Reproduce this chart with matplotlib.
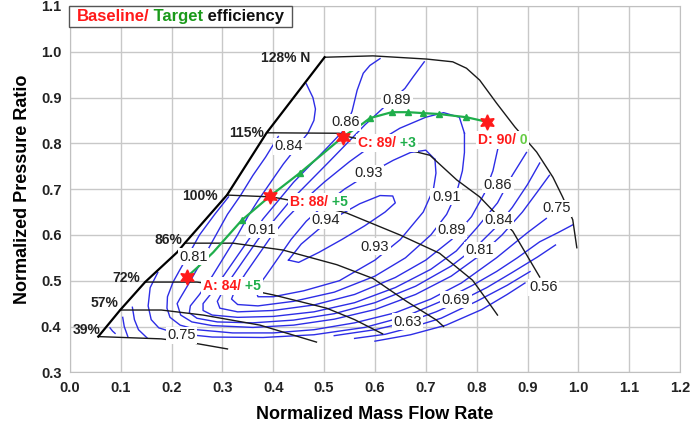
import matplotlib.pyplot as plt
from matplotlib.patches import Rectangle
from matplotlib.transforms import Bbox

plt.rcParams['font.family'] = ['Liberation Sans', 'DejaVu Sans']

# ---- map boundaries (normalized mass flow, normalized pressure ratio) ----
surge = [(0.056, 0.378), (0.099, 0.436), (0.148, 0.497), (0.211, 0.562), (0.226, 0.582),
         (0.309, 0.687), (0.387, 0.823), (0.501, 0.988)]

speed_128 = [(0.501, 0.988), (0.596, 0.991), (0.702, 0.984), (0.753, 0.978), (0.78, 0.964),
             (0.806, 0.938), (0.839, 0.888), (0.875, 0.836), (0.918, 0.781), (0.95, 0.726),
             (0.969, 0.683), (0.989, 0.633), (0.997, 0.572)]
speed_115 = [(0.387, 0.823), (0.53, 0.822), (0.545, 0.815), (0.62, 0.798), (0.708, 0.774),
             (0.761, 0.72), (0.806, 0.683), (0.831, 0.654), (0.871, 0.608), (0.924, 0.508)]
speed_100 = [(0.309, 0.687), (0.397, 0.683), (0.47, 0.668), (0.544, 0.648), (0.649, 0.60),
             (0.727, 0.56), (0.792, 0.501), (0.82, 0.458), (0.841, 0.425)]
speed_86 = [(0.226, 0.582), (0.321, 0.582), (0.419, 0.567), (0.525, 0.535), (0.596, 0.505),
            (0.662, 0.455), (0.721, 0.414), (0.735, 0.40)]
speed_72 = [(0.148, 0.497), (0.25, 0.497), (0.33, 0.485), (0.40, 0.469), (0.505, 0.44),
            (0.56, 0.415), (0.615, 0.384)]
speed_57 = [(0.099, 0.436), (0.18, 0.436), (0.262, 0.425), (0.374, 0.403), (0.485, 0.366)]
speed_39 = [(0.056, 0.378), (0.18, 0.373), (0.243, 0.364), (0.31, 0.351)]

speed_labels = [("128% N", 0.472, 0.987), ("115%", 0.381, 0.822), ("100%", 0.291, 0.684),
                ("86%", 0.221, 0.589), ("72%", 0.138, 0.506), ("57%", 0.096, 0.451),
                ("39%", 0.06, 0.392)]

# ---- efficiency contours (blue) ----
eff_094 = [(0.43, 0.545), (0.455, 0.58), (0.49, 0.613), (0.53, 0.643), (0.57, 0.668), (0.61, 0.686),
           (0.635, 0.685), (0.64, 0.67), (0.62, 0.65), (0.58, 0.62), (0.535, 0.59), (0.49, 0.562),
           (0.45, 0.54), (0.43, 0.545)]
eff_093 = [(0.718, 0.765), (0.70, 0.785), (0.67, 0.78), (0.636, 0.763), (0.59, 0.735), (0.54, 0.70),
           (0.50, 0.665), (0.465, 0.63), (0.435, 0.59), (0.41, 0.55), (0.385, 0.51), (0.365, 0.48),
           (0.37, 0.465), (0.40, 0.465), (0.46, 0.478), (0.53, 0.50), (0.60, 0.545), (0.65, 0.59),
           (0.695, 0.65), (0.715, 0.70), (0.72, 0.735), (0.718, 0.765)]
eff_091 = [(0.776, 0.822), (0.766, 0.857), (0.735, 0.867), (0.70, 0.857), (0.649, 0.833), (0.60, 0.80),
           (0.55, 0.76), (0.50, 0.715), (0.46, 0.675), (0.425, 0.635), (0.395, 0.595), (0.37, 0.555),
           (0.345, 0.515), (0.325, 0.48), (0.318, 0.46), (0.33, 0.448), (0.37, 0.445), (0.44, 0.455),
           (0.52, 0.475), (0.60, 0.51), (0.66, 0.55), (0.71, 0.60), (0.741, 0.645), (0.76, 0.69),
           (0.772, 0.74), (0.776, 0.78), (0.776, 0.822)]
eff_089 = [(0.697, 0.978), (0.675, 0.945), (0.659, 0.92), (0.616, 0.877), (0.58, 0.84), (0.545, 0.80),
           (0.51, 0.76), (0.47, 0.715), (0.43, 0.67), (0.40, 0.63), (0.37, 0.59), (0.345, 0.55),
           (0.32, 0.51), (0.30, 0.475), (0.29, 0.455), (0.295, 0.44), (0.33, 0.432), (0.40, 0.435),
           (0.48, 0.447), (0.56, 0.47), (0.64, 0.507), (0.70, 0.545), (0.751, 0.59), (0.79, 0.64),
           (0.815, 0.69), (0.832, 0.74), (0.842, 0.79)]
eff_086 = [(0.61, 0.985), (0.59, 0.97), (0.577, 0.953), (0.565, 0.916), (0.555, 0.87), (0.54, 0.83),
           (0.51, 0.795), (0.475, 0.755), (0.44, 0.715), (0.41, 0.675), (0.38, 0.635), (0.355, 0.595),
           (0.33, 0.555), (0.305, 0.515), (0.28, 0.475), (0.262, 0.45), (0.262, 0.435), (0.28, 0.425),
           (0.33, 0.42), (0.40, 0.422), (0.48, 0.432), (0.56, 0.452), (0.64, 0.485), (0.71, 0.525),
           (0.76, 0.565), (0.80, 0.615), (0.841, 0.67), (0.87, 0.73), (0.898, 0.78)]
eff_084 = [(0.465, 0.93), (0.478, 0.90), (0.483, 0.875), (0.48, 0.85), (0.468, 0.822), (0.445, 0.79),
           (0.42, 0.755), (0.395, 0.715), (0.37, 0.675), (0.35, 0.64), (0.33, 0.60), (0.305, 0.555),
           (0.28, 0.51), (0.255, 0.47), (0.237, 0.445), (0.235, 0.43), (0.25, 0.418), (0.29, 0.41),
           (0.36, 0.408), (0.44, 0.414), (0.52, 0.428), (0.60, 0.452), (0.68, 0.488), (0.75, 0.532),
           (0.80, 0.575), (0.841, 0.62), (0.87, 0.66), (0.90, 0.71), (0.924, 0.757)]
eff_081 = [(0.41, 0.815), (0.385, 0.77), (0.36, 0.73), (0.335, 0.685), (0.31, 0.645), (0.29, 0.605),
           (0.27, 0.565), (0.25, 0.525), (0.232, 0.49), (0.217, 0.462), (0.211, 0.45), (0.218, 0.425),
           (0.24, 0.41), (0.28, 0.402), (0.36, 0.398), (0.44, 0.403), (0.52, 0.416), (0.60, 0.437),
           (0.68, 0.47), (0.75, 0.51), (0.806, 0.555), (0.85, 0.60), (0.89, 0.65), (0.92, 0.695),
           (0.943, 0.73)]
eff_078 = [(0.312, 0.683), (0.285, 0.645), (0.255, 0.60), (0.235, 0.56), (0.217, 0.525), (0.203, 0.497),
           (0.192, 0.465), (0.191, 0.44), (0.197, 0.42), (0.217, 0.403), (0.25, 0.393), (0.32, 0.386),
           (0.40, 0.386), (0.48, 0.393), (0.56, 0.408), (0.64, 0.43), (0.71, 0.46), (0.77, 0.495),
           (0.839, 0.55), (0.90, 0.605), (0.937, 0.636)]
eff_075 = [(0.173, 0.518), (0.158, 0.485), (0.154, 0.445), (0.16, 0.415), (0.175, 0.397), (0.21, 0.385),
           (0.28, 0.377), (0.38, 0.376), (0.48, 0.382), (0.58, 0.398), (0.66, 0.422), (0.73, 0.455),
           (0.792, 0.49), (0.839, 0.52), (0.88, 0.55), (0.924, 0.585), (0.96, 0.605), (0.989, 0.622)]
eff_069 = [(0.52, 0.38), (0.60, 0.393), (0.665, 0.41), (0.72, 0.432), (0.761, 0.452), (0.82, 0.485),
           (0.87, 0.518), (0.92, 0.552), (0.955, 0.578)]
eff_063 = [(0.56, 0.374), (0.62, 0.383), (0.665, 0.396), (0.73, 0.418), (0.80, 0.455), (0.86, 0.49),
           (0.905, 0.52)]
eff_056 = [(0.60, 0.368), (0.67, 0.382), (0.74, 0.403), (0.81, 0.437), (0.86, 0.47), (0.895, 0.495)]
eff_arc1 = [(0.079, 0.397), (0.084, 0.39), (0.089, 0.385)]
eff_arc2 = [(0.104, 0.42), (0.107, 0.40), (0.114, 0.378)]
eff_arc3 = [(0.123, 0.442), (0.127, 0.415), (0.135, 0.393), (0.152, 0.375)]

eff_labels = [("0.89", 0.643, 0.895), ("0.86", 0.542, 0.846), ("0.84", 0.431, 0.794),
              ("0.93", 0.587, 0.735), ("0.91", 0.740, 0.683), ("0.86", 0.842, 0.709),
              ("0.75", 0.957, 0.658), ("0.91", 0.378, 0.611), ("0.94", 0.503, 0.632),
              ("0.81", 0.243, 0.552), ("0.93", 0.600, 0.574), ("0.89", 0.751, 0.610),
              ("0.84", 0.843, 0.632), ("0.81", 0.806, 0.567), ("0.56", 0.932, 0.486),
              ("0.69", 0.759, 0.458), ("0.63", 0.664, 0.410), ("0.75", 0.220, 0.381)]

# ---- baseline / target operating points ----
target_path = [(0.23, 0.508), (0.252, 0.53), (0.282, 0.562), (0.338, 0.632), (0.394, 0.685),
               (0.452, 0.735), (0.537, 0.814), (0.577, 0.844), (0.59, 0.855), (0.633, 0.868),
               (0.665, 0.868), (0.695, 0.866), (0.726, 0.864), (0.78, 0.857), (0.82, 0.847)]
target_marks = [(0.338, 0.632), (0.452, 0.735), (0.59, 0.855), (0.633, 0.868), (0.665, 0.868),
                (0.695, 0.866), (0.726, 0.864), (0.78, 0.857)]
points = ["A", "B", "C", "D"]
point_xy = [(0.23, 0.508), (0.394, 0.685), (0.537, 0.814), (0.82, 0.847)]
baseline_eff = [84, 88, 89, 90]
target_gain = ["+5", "+5", "+3", "0"]
point_label_xy = [(0.262, 0.489), (0.433, 0.672), (0.567, 0.80), (0.802, 0.807)]

RED = '#ff1a1a'
GREEN = '#1fae4b'
BLUE = '#2d2de6'

fig = plt.figure(figsize=(6.99, 4.25), dpi=100)
ax = fig.add_axes([0.0999, 0.124, 0.873, 0.862])
ax.set_xlim(0.0, 1.2)
ax.set_ylim(0.3, 1.1)

ax.set_xticks([i / 10 for i in range(13)])
ax.set_yticks([i / 10 for i in range(3, 12)])
ax.set_xticklabels(["%.1f" % (i / 10) for i in range(13)])
ax.set_yticklabels(["%.1f" % (i / 10) for i in range(3, 12)])
ax.tick_params(length=0, labelsize=10.5, pad=6, labelcolor='#222222')
for lab in ax.get_xticklabels() + ax.get_yticklabels():
    lab.set_fontweight('bold')
ax.grid(True, color='#c8c8c8', lw=1.0, zorder=0)
ax.set_axisbelow(True)
for sp in ax.spines.values():
    sp.set_color('#c0c0c0')

ax.set_xlabel('Normalized Mass Flow Rate', fontsize=13, fontweight='bold', labelpad=8)
ax.set_ylabel('Normalized Pressure Ratio', fontsize=13, fontweight='bold', labelpad=7)


def xy(pts):
    return [p[0] for p in pts], [p[1] for p in pts]


# efficiency islands
for c in [eff_094, eff_093, eff_091, eff_089, eff_086, eff_084, eff_081, eff_078, eff_075,
          eff_069, eff_063, eff_056, eff_arc1, eff_arc2, eff_arc3]:
    ax.plot(*xy(c), color=BLUE, lw=1.0, zorder=2)

# speed lines + surge
for s in [speed_128, speed_115, speed_100, speed_86, speed_72, speed_57, speed_39]:
    ax.plot(*xy(s), color='#1a1a1a', lw=1.0, zorder=3)
ax.plot(*xy(surge), color='black', lw=1.6, zorder=3)

for txt, x, y in speed_labels:
    ax.text(x, y, txt, ha='right', va='center', fontsize=10, fontweight='bold', color='#222222', zorder=6)

# target path
ax.plot(*xy(target_path), color=GREEN, lw=1.6, zorder=4)
ax.plot(*xy(target_marks), ls='none', marker='^', ms=5, color=GREEN, zorder=4)
ax.plot(*xy(point_xy), ls='none', marker=(6, 1, 0), ms=11, color=RED, zorder=5)

bb = dict(facecolor='white', edgecolor='none', pad=1.0)
for txt, x, y in eff_labels:
    ax.text(x, y, txt, ha='center', va='center', fontsize=10.5, color='#222222', bbox=bb, zorder=6)


def colored(x, y, parts, size):
    t = ax.text(x, y, parts[0][0], color=parts[0][1], fontsize=size, fontweight='bold',
                ha='left', va='center', zorder=8)
    group = [t]
    for s, col in parts[1:]:
        t = ax.annotate(s, xy=(1, 0), xycoords=t, ha='left', va='bottom', color=col,
                        fontsize=size, fontweight='bold', zorder=8)
        group.append(t)
    return group


pt_green = [GREEN, GREEN, GREEN, '#66cc44']
groups = []
for i, p in enumerate(points):
    lx, ly = point_label_xy[i]
    groups.append(colored(lx, ly, [("%s: %d/" % (p, baseline_eff[i]), RED),
                                   (" " + target_gain[i], pt_green[i])], 10))

# white backing behind each two-colour point label
fig.canvas.draw()
rend = fig.canvas.get_renderer()
inv = ax.transData.inverted()
for g in groups:
    box = Bbox.union([t.get_window_extent(rend) for t in g]).expanded(1.0, 1.0).padded(2)
    (x0, y0), (x1, y1) = inv.transform([[box.x0, box.y0], [box.x1, box.y1]])
    ax.add_patch(Rectangle((x0, y0), x1 - x0, y1 - y0, facecolor='white', edgecolor='none', zorder=7))

# header box
ax.add_patch(Rectangle((-0.002, 0.942), 0.366, 0.058, transform=ax.transAxes, facecolor='white',
                       edgecolor='#555555', lw=1.0, zorder=8, clip_on=False))
t0 = ax.text(0.011, 0.971, "Baseline/", transform=ax.transAxes, color='#ff1a1a', fontsize=12,
             fontweight='bold', ha='left', va='center', zorder=9)
t1 = ax.annotate(" Target", xy=(1, 0), xycoords=t0, ha='left', va='bottom', color='#1a9a1a',
                 fontsize=12, fontweight='bold', zorder=9)
ax.annotate(" efficiency", xy=(1, 0), xycoords=t1, ha='left', va='bottom', color='#111111',
            fontsize=12, fontweight='bold', zorder=9)

fig.savefig('out.png', dpi=100)
